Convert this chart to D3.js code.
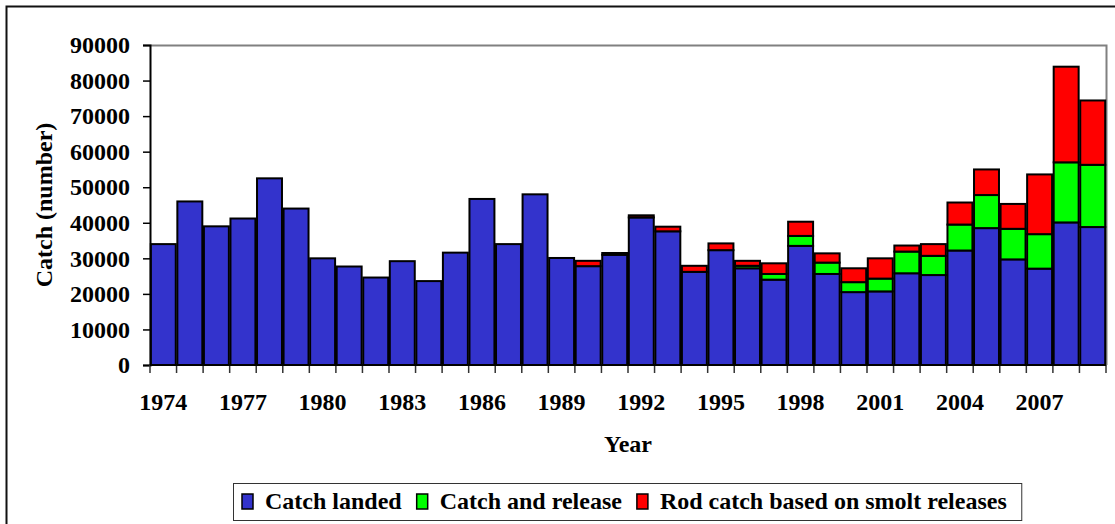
<!DOCTYPE html>
<html>
<head>
<meta charset="utf-8">
<title>Catch per year</title>
<script src="https://cdn.jsdelivr.net/npm/d3@7"></script>
<style>
  body { margin: 0; background: #fff; }
</style>
</head>
<body>
<svg id="svg"></svg>
<script>
// data
var years = [1974, 1975, 1976, 1977, 1978, 1979, 1980, 1981, 1982, 1983,
             1984, 1985, 1986, 1987, 1988, 1989, 1990, 1991, 1992, 1993,
             1994, 1995, 1996, 1997, 1998, 1999, 2000, 2001, 2002, 2003,
             2004, 2005, 2006, 2007, 2008, 2009];
var landed = [34000, 46000, 39000, 41200, 52500, 44000, 30000, 27700, 24600, 29200,
              23600, 31600, 46700, 34000, 48000, 30100, 27800, 31000, 41500, 37600,
              26200, 32300, 27200, 24000, 33500, 25600, 20500, 20700, 25800, 25300,
              32200, 38500, 29700, 27100, 40100, 38800];
var released = [0, 0, 0, 0, 0, 0, 0, 0, 0, 0,
                 0, 0, 0, 0, 0, 0, 0, 0, 0, 0,
                 0, 0, 700, 1600, 2800, 3200, 2800, 3600, 6100, 5400,
                 7300, 9300, 8600, 9700, 16900, 17500];
var smolt = [0, 0, 0, 0, 0, 0, 0, 0, 0, 0,
             0, 0, 0, 0, 0, 0, 1500, 500, 600, 1300,
             1700, 1900, 1400, 3000, 4000, 2600, 3900, 5700, 1700, 3300,
             6200, 7200, 7000, 16800, 26900, 18100];
var seriesKeys = ["landed", "released", "smolt"];
var seriesNames = ["Catch landed", "Catch and release", "Rod catch based on smolt releases"];
var seriesColors = ["#3333CC", "#00FF00", "#FF0000"];
var yTicks = [0, 10000, 20000, 30000, 40000, 50000, 60000, 70000, 80000, 90000];
var xLabels = [1974, 1977, 1980, 1983, 1986, 1989, 1992, 1995, 1998, 2001, 2004, 2007];

var FONT = "'Liberation Serif', 'Times New Roman', 'DejaVu Serif', serif";

var width = 1115,
    height = 524,
    _margins = {top: 45, left: 150, right: 9, bottom: 159},
    plotW = width - _margins.left - _margins.right,
    plotH = height - _margins.top - _margins.bottom;

var svg = d3.select("#svg")
    .attr("width", width)
    .attr("height", height);

// outer frame (runs off the right and bottom edge)
svg.append("rect")
    .attr("x", 6.5).attr("y", 6.5)
    .attr("width", width + 20).attr("height", height + 20)
    .attr("fill", "none").attr("stroke", "#111").attr("stroke-width", 2);

var rows = years.map(function(y, i) {
    return {year: y, landed: landed[i], released: released[i], smolt: smolt[i]};
});
var stacked = d3.stack().keys(seriesKeys)(rows);

var x = d3.scaleBand().domain(years).range([0, plotW]).paddingInner(0.06).paddingOuter(0.03);
var y = d3.scaleLinear().domain([0, 90000]).range([plotH, 0]);

var g = svg.append("g")
    .attr("transform", "translate(" + _margins.left + "," + _margins.top + ")");

// plot area border, top and right in grey
g.append("path")
    .attr("d", "M0,0.5H" + (plotW + 0.5) + "V" + plotH)
    .attr("fill", "none").attr("stroke", "#808080").attr("stroke-width", 2);

// bars
g.selectAll("g.layer")
    .data(stacked)
    .enter().append("g")
    .attr("class", "layer")
    .attr("fill", function(d, i) { return seriesColors[i]; })
    .selectAll("rect")
    .data(function(d) { return d.filter(function(s) { return s[1] - s[0] > 0; }); })
    .enter().append("rect")
    .attr("x", function(d) { return x(d.data.year); })
    .attr("y", function(d) { return y(d[1]); })
    .attr("width", x.bandwidth())
    .attr("height", function(d) { return y(d[0]) - y(d[1]); })
    .attr("stroke", "#000")
    .attr("stroke-width", 2);

// y axis
var axisY = d3.axisLeft(y).tickValues(yTicks).tickSize(7).tickPadding(13).tickFormat(d3.format("d"));
var gy = g.append("g").call(axisY)
    .attr("font-family", FONT).attr("font-size", 24).attr("font-weight", "bold");
gy.select(".domain").attr("stroke", "#000").attr("stroke-width", 2);
gy.selectAll(".tick line").attr("stroke", "#000").attr("stroke-width", 1.5);

// x axis: labels every third year, tick marks between bars
var axisX = d3.axisBottom(x).tickValues(xLabels).tickSize(0).tickPadding(28);
var gx = g.append("g").attr("transform", "translate(0," + plotH + ")").call(axisX)
    .attr("font-family", FONT).attr("font-size", 24).attr("font-weight", "bold");
gx.select(".domain").remove();

var step = x.step();
g.append("g").selectAll("line")
    .data(d3.range(years.length + 1))
    .enter().append("line")
    .attr("x1", function(i) { return i * step; })
    .attr("x2", function(i) { return i * step; })
    .attr("y1", plotH).attr("y2", plotH + 8)
    .attr("stroke", "#333").attr("stroke-width", 1.5);

g.append("line")
    .attr("x1", 0).attr("x2", plotW)
    .attr("y1", plotH).attr("y2", plotH)
    .attr("stroke", "#000").attr("stroke-width", 2);

// axis titles
svg.append("text")
    .attr("x", _margins.left + plotW / 2)
    .attr("y", 452)
    .attr("text-anchor", "middle")
    .attr("font-family", FONT).attr("font-size", 24).attr("font-weight", "bold")
    .text("Year");

svg.append("text")
    .attr("transform", "translate(52," + (_margins.top + plotH / 2) + ")rotate(-90)")
    .attr("text-anchor", "middle")
    .attr("font-family", FONT).attr("font-size", 24).attr("font-weight", "bold")
    .text("Catch (number)");

// legend
var legend = svg.append("g")
    .attr("font-family", FONT).attr("font-size", 24).attr("font-weight", "bold");
var legendBox = legend.append("rect")
    .attr("x", 233.5).attr("y", 483.5)
    .attr("height", 37)
    .attr("fill", "#fff").attr("stroke", "#333").attr("stroke-width", 1);

var lx = 242;
seriesNames.forEach(function(name, i) {
    legend.append("rect")
        .attr("x", lx).attr("y", 494)
        .attr("width", 11).attr("height", 15)
        .attr("fill", seriesColors[i])
        .attr("stroke", "#000").attr("stroke-width", 1.5);
    var t = legend.append("text")
        .attr("x", lx + 23).attr("y", 509)
        .text(name);
    lx = lx + 23 + t.node().getComputedTextLength() + 15;
});
legendBox.attr("width", lx - 233.5);
</script>
</body>
</html>
